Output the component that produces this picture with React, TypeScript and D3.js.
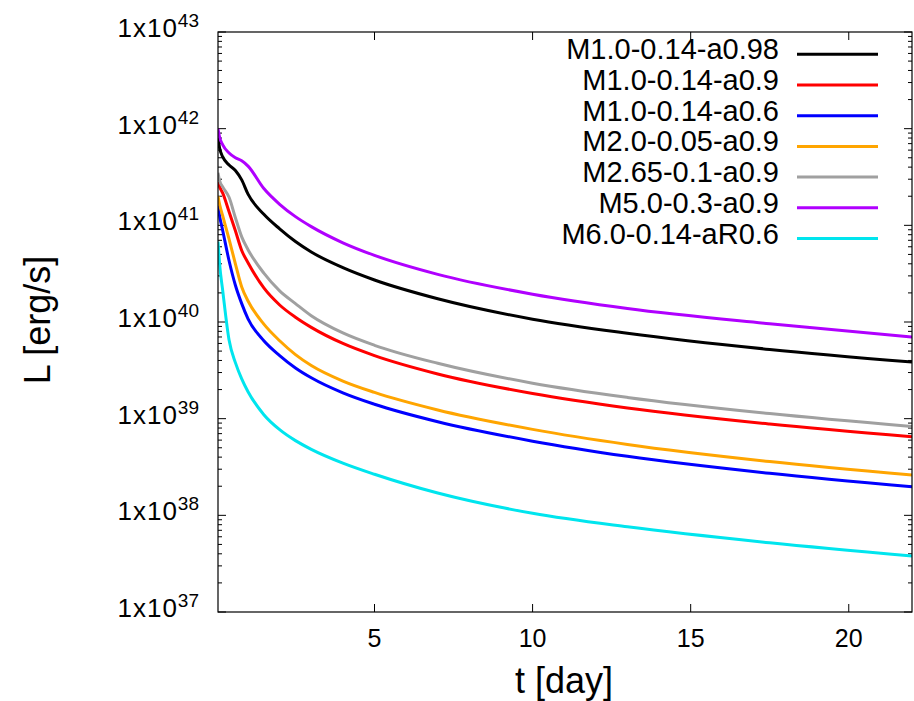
import React from "react";
import * as d3 from "d3";

const T = [0.05, 0.1, 0.2, 0.4, 0.6, 0.8, 1.0, 1.5, 2, 2.5, 3, 4, 5, 7, 10, 13, 17.5, 22];

const seriesNames = [
  "M1.0-0.14-a0.98",
  "M1.0-0.14-a0.9",
  "M1.0-0.14-a0.6",
  "M2.0-0.05-a0.9",
  "M2.65-0.1-a0.9",
  "M5.0-0.3-a0.9",
  "M6.0-0.14-aR0.6",
];

const seriesColors = ["#000000", "#ff0000", "#0000ff", "#ffa500", "#a0a0a0", "#b000ff", "#00e5ee"];

const L_a098 = [8.0e41, 6.3e41, 5.1e41, 4.2e41, 3.7e41, 2.95e41, 2.1e41, 1.3e41, 9.2e40, 6.8e40, 5.3e40, 3.65e40, 2.72e40, 1.74e40, 1.07e40, 7.65e39, 5.2e39, 3.85e39];
const L_a09 = [2.8e41, 2.5e41, 2.15e41, 1.38e41, 8.8e40, 5.5e40, 4.1e40, 2.25e40, 1.5e40, 1.12e40, 8.8e39, 6.0e39, 4.49e39, 2.9e39, 1.82e39, 1.29e39, 8.8e38, 6.5e38];
const L_a06 = [1.6e41, 1.25e41, 8.8e40, 4.3e40, 2.4e40, 1.55e40, 1.08e40, 6.4e39, 4.5e39, 3.35e39, 2.65e39, 1.85e39, 1.41e39, 9.3e38, 5.85e38, 4.08e38, 2.72e38, 1.97e38];
const L_M2 = [2.0e41, 1.65e41, 1.25e41, 7.2e40, 4.0e40, 2.3e40, 1.65e40, 9.5e39, 6.4e39, 4.6e39, 3.55e39, 2.45e39, 1.87e39, 1.23e39, 7.75e38, 5.41e38, 3.6e38, 2.61e38];
const L_M265 = [3.5e41, 2.9e41, 2.5e41, 1.95e41, 1.2e41, 7.6e40, 5.6e40, 3.2e40, 2.1e40, 1.55e40, 1.16e40, 7.7e39, 5.74e39, 3.74e39, 2.33e39, 1.66e39, 1.13e39, 8.3e38];
const L_M5 = [1.0e42, 8.2e41, 6.8e41, 5.6e41, 5.0e41, 4.65e41, 4.1e41, 2.4e41, 1.65e41, 1.23e41, 9.7e40, 6.6e40, 4.89e40, 3.11e40, 1.94e40, 1.38e40, 9.6e39, 7.0e39];
const L_M6 = [6.8e40, 4.0e40, 2.1e40, 6.5e39, 3.8e39, 2.58e39, 1.9e39, 1.1e39, 7.7e38, 5.93e38, 4.82e38, 3.47e38, 2.66e38, 1.7e38, 1.05e38, 7.6e37, 5.2e37, 3.8e37];

const seriesValues = [L_a098, L_a09, L_a06, L_M2, L_M265, L_M5, L_M6];

const xTicks = [5, 10, 15, 20];
const yExponents = [37, 38, 39, 40, 41, 42, 43];

const W = 914;
const H = 701;
const left = 218;
const right = 912;
const top = 32;
const bottom = 612;
const FONT = "'Liberation Sans', Arial, Helvetica, sans-serif";

export default function App() {
  const x = d3.scaleLinear().domain([0.05, 22]).range([left, right]);
  const y = d3.scaleLog().domain([1e37, 1e43]).range([bottom, top]);
  const line = d3
    .line<[number, number]>()
    .x((d) => x(d[0]))
    .y((d) => y(d[1]))
    .curve(d3.curveMonotoneX);

  const minor: number[] = [];
  for (let e = 37; e < 43; e++) {
    for (let m = 2; m <= 9; m++) minor.push(m * Math.pow(10, e));
  }

  return (
    <svg
      width={W}
      height={H}
      style={{ position: "absolute", left: 0, top: 0, background: "#fff" }}
      fontFamily={FONT}
    >
      <defs>
        <clipPath id="plotclip">
          <rect x={left} y={top} width={right - left} height={bottom - top} />
        </clipPath>
      </defs>
      <rect x={0} y={0} width={W} height={H} fill="#fff" />

      {/* minor y ticks */}
      {minor.map((v, i) => (
        <g key={"mn" + i} stroke="#000" strokeWidth={1}>
          <line x1={left} x2={left + 4} y1={y(v)} y2={y(v)} />
          <line x1={right} x2={right - 4} y1={y(v)} y2={y(v)} />
        </g>
      ))}
      {/* major y ticks + labels */}
      {yExponents.map((e) => {
        const yy = y(Math.pow(10, e));
        return (
          <g key={"mj" + e}>
            <line x1={left} x2={left + 8} y1={yy} y2={yy} stroke="#000" />
            <line x1={right} x2={right - 8} y1={yy} y2={yy} stroke="#000" />
            <text x={199} y={yy + 5} textAnchor="end" fontSize={26} fill="#000" letterSpacing={1}>
              1x10
              <tspan dy={-10} fontSize={19} letterSpacing={0}>
                {e}
              </tspan>
            </text>
          </g>
        );
      })}
      {/* x ticks */}
      {xTicks.map((t) => (
        <g key={"xt" + t}>
          <line x1={x(t)} x2={x(t)} y1={bottom} y2={bottom - 8} stroke="#000" />
          <line x1={x(t)} x2={x(t)} y1={top} y2={top + 8} stroke="#000" />
          <text x={x(t)} y={647} textAnchor="middle" fontSize={25} fill="#000">
            {t}
          </text>
        </g>
      ))}

      {/* curves */}
      <g clipPath="url(#plotclip)">
        {seriesValues.map((vals, i) => (
          <path
            key={"s" + i}
            d={line(T.map((t, j) => [t, vals[j]] as [number, number])) || ""}
            fill="none"
            stroke={seriesColors[i]}
            strokeWidth={3}
            strokeLinejoin="round"
          />
        ))}
      </g>

      {/* frame */}
      <rect x={left} y={top} width={right - left} height={bottom - top} fill="none" stroke="#000" strokeWidth={1.2} />

      {/* legend */}
      {seriesNames.map((name, i) => {
        const ly = 54.3 + i * 30.7;
        return (
          <g key={"lg" + i}>
            <text x={779} y={ly + 5} textAnchor="end" fontSize={29} fill="#000">
              {name}
            </text>
            <line x1={797} x2={878} y1={ly} y2={ly} stroke={seriesColors[i]} strokeWidth={3} />
          </g>
        );
      })}

      {/* axis titles */}
      <text x={564} y={693} textAnchor="middle" fontSize={36} fill="#000">
        t [day]
      </text>
      <text
        x={0}
        y={0}
        transform={`translate(50,320) rotate(-90)`}
        textAnchor="middle"
        fontSize={36}
        fill="#000"
      >
        L [erg/s]
      </text>
    </svg>
  );
}
